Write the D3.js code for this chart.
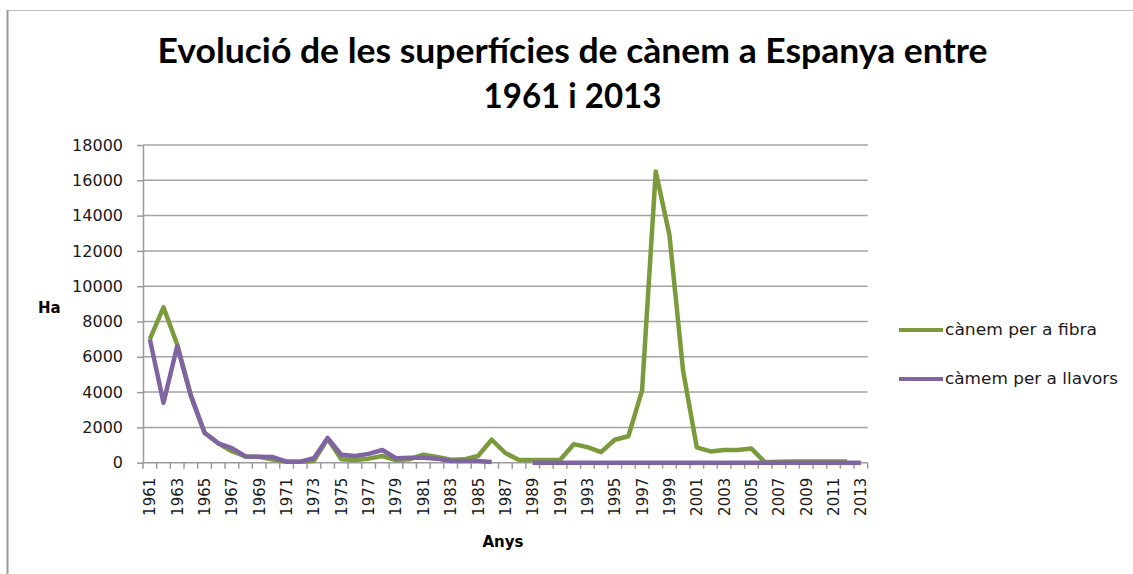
<!DOCTYPE html>
<html>
<head>
<meta charset="utf-8">
<script src="https://cdn.jsdelivr.net/npm/d3@7"></script>
<style>
    body { margin: 0; background: #fff; }
    svg { display: block; }
</style>
</head>
<body>
<div id="chart"></div>
<script>
var years = [1961, 1962, 1963, 1964, 1965, 1966, 1967, 1968, 1969, 1970,
    1971, 1972, 1973, 1974, 1975, 1976, 1977, 1978, 1979, 1980,
    1981, 1982, 1983, 1984, 1985, 1986, 1987, 1988, 1989, 1990,
    1991, 1992, 1993, 1994, 1995, 1996, 1997, 1998, 1999, 2000,
    2001, 2002, 2003, 2004, 2005, 2006, 2007, 2008, 2009, 2010,
    2011, 2012, 2013];

// cànem per a fibra (Ha)
var fibra = [7000, 8800, 6700, 3800, 1700, 1100, 650, 350, 330, 180,
    50, 50, 100, 1350, 190, 150, 230, 380, 150, 200,
    450, 330, 170, 190, 380, 1300, 550, 150, 150, 150,
    150, 1050, 880, 600, 1300, 1500, 4100, 16500, 12900, 5200,
    870, 640, 720, 720, 800, 20, 60, 70, 70, 70,
    70, 70, null];

// càmem per a llavors (Ha)
var llavors = [7000, 3400, 6600, 3800, 1700, 1100, 830, 350, 340, 320,
    60, 60, 250, 1400, 450, 380, 500, 720, 250, 280,
    280, 230, 100, 100, 100, 40, null, null, 0, 0,
    0, 0, 0, 0, 0, 0, 0, 0, 0, 0,
    0, 0, 0, 0, 0, 0, 0, 0, 0, 0,
    0, 0, 0];

var yTicks = [0, 2000, 4000, 6000, 8000, 10000, 12000, 14000, 16000, 18000];
var labelYears = years.filter(function (d) { return (d - 1961) % 2 === 0; });

var seriesNames = ["cànem per a fibra", "càmem per a llavors"];
var colors = ["#7a9a3c", "#8064a2"];

var W = 1133, H = 574;
var plot = { left: 143, right: 867.7, top: 145, bottom: 462.7 };

var svg = d3.select("#chart").append("svg")
    .attr("width", W)
    .attr("height", H);

// outer frame (top and left edges only visible)
svg.append("line")
    .attr("x1", 7).attr("x2", W).attr("y1", 10.5).attr("y2", 10.5)
    .attr("stroke", "#bdbdbd").attr("stroke-width", 1);
svg.append("line")
    .attr("x1", 7.5).attr("x2", 7.5).attr("y1", 10).attr("y2", H)
    .attr("stroke", "#9a9a9a").attr("stroke-width", 2);

var xScale = d3.scaleBand()
    .domain(years)
    .range([plot.left, plot.right])
    .padding(0);

var yScale = d3.scaleLinear()
    .domain([0, 18000])
    .range([plot.bottom, plot.top]);

// gridlines
svg.append("g")
    .selectAll("line")
    .data(yTicks.slice(1))
    .enter().append("line")
    .attr("x1", plot.left)
    .attr("x2", plot.right)
    .attr("y1", function (d) { return yScale(d); })
    .attr("y2", function (d) { return yScale(d); })
    .attr("stroke", "#a3a3a3")
    .attr("stroke-width", 1.5);

// y axis
var yAxis = svg.append("g")
    .attr("transform", "translate(" + plot.left + ",0)")
    .call(d3.axisLeft(yScale)
        .tickValues(yTicks)
        .tickFormat(d3.format("d"))
        .tickSize(6)
        .tickPadding(14)
        .tickSizeOuter(0));
yAxis.select(".domain").attr("stroke", "#9a9a9a").attr("stroke-width", 1.5);
yAxis.selectAll(".tick line").attr("stroke", "#9a9a9a").attr("stroke-width", 1.5);
yAxis.selectAll("text")
    .style("font-family", "DejaVu Sans")
    .style("font-size", "16px")
    .attr("fill", "#1a1a1a");

// x axis: ticks sit between categories
var xAxis = svg.append("g")
    .attr("transform", "translate(0," + plot.bottom + ")");
xAxis.append("line")
    .attr("x1", plot.left).attr("x2", plot.right)
    .attr("stroke", "#9a9a9a").attr("stroke-width", 1.5);
xAxis.selectAll(".tk")
    .data(years.concat(["end"]))
    .enter().append("line")
    .attr("class", "tk")
    .attr("x1", function (d) { return d === "end" ? plot.right : xScale(d); })
    .attr("x2", function (d) { return d === "end" ? plot.right : xScale(d); })
    .attr("y1", 0)
    .attr("y2", 6)
    .attr("stroke", "#9a9a9a")
    .attr("stroke-width", 1.5);
xAxis.selectAll(".lbl")
    .data(labelYears)
    .enter().append("text")
    .attr("class", "lbl")
    .attr("transform", function (d) {
        return "translate(" + (xScale(d) + xScale.bandwidth() / 2 + 5.5) + ",15) rotate(-90)";
    })
    .attr("text-anchor", "end")
    .style("font-family", "DejaVu Sans")
    .style("font-size", "15px")
    .attr("fill", "#1a1a1a")
    .text(function (d) { return d; });

// series
var line = d3.line()
    .defined(function (d) { return d.v !== null; })
    .x(function (d) { return xScale(d.year) + xScale.bandwidth() / 2; })
    .y(function (d) { return yScale(d.v); });

[fibra, llavors].forEach(function (vals, i) {
    var pts = years.map(function (y, j) { return { year: y, v: vals[j] }; });
    svg.append("path")
        .datum(pts)
        .attr("d", line)
        .attr("fill", "none")
        .attr("stroke", colors[i])
        .attr("stroke-width", 4.5)
        .attr("stroke-linejoin", "round");
});

// title
svg.append("text")
    .attr("x", 572.5)
    .attr("y", 63)
    .attr("text-anchor", "middle")
    .attr("textLength", 830)
    .attr("lengthAdjust", "spacingAndGlyphs")
    .style("font-family", "Lato")
    .style("font-weight", "bold")
    .style("font-size", "35px")
    .text("Evolució de les superfícies de cànem a Espanya entre");
svg.append("text")
    .attr("x", 572.5)
    .attr("y", 108)
    .attr("text-anchor", "middle")
    .attr("textLength", 178)
    .attr("lengthAdjust", "spacingAndGlyphs")
    .style("font-family", "Lato")
    .style("font-weight", "bold")
    .style("font-size", "35px")
    .text("1961 i 2013");

// axis titles
svg.append("text")
    .attr("x", 38)
    .attr("y", 312.5)
    .style("font-family", "DejaVu Sans")
    .style("font-weight", "bold")
    .style("font-size", "15px")
    .text("Ha");
svg.append("text")
    .attr("x", 503)
    .attr("y", 547)
    .attr("text-anchor", "middle")
    .style("font-family", "DejaVu Sans")
    .style("font-weight", "bold")
    .style("font-size", "15px")
    .text("Anys");

// legend
var legend = svg.selectAll(".legend")
    .data(seriesNames)
    .enter().append("g")
    .attr("class", "legend")
    .attr("transform", function (d, i) { return "translate(899," + (330 + i * 49) + ")"; });
legend.append("line")
    .attr("x1", 0).attr("x2", 44)
    .attr("stroke", function (d, i) { return colors[i]; })
    .attr("stroke-width", 4);
legend.append("text")
    .attr("x", 46)
    .attr("y", 5)
    .attr("textLength", function (d, i) { return i === 0 ? 152 : 173; })
    .attr("lengthAdjust", "spacingAndGlyphs")
    .style("font-family", "DejaVu Sans")
    .style("font-size", "15px")
    .attr("fill", "#1a1a1a")
    .text(function (d) { return d; });
</script>
</body>
</html>
